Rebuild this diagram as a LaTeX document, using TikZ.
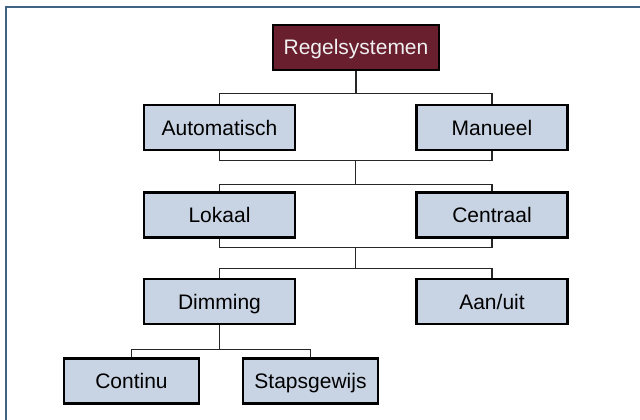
\documentclass[tikz,border=0pt]{standalone}
\usepackage{fontspec}
\setmainfont{Liberation Sans}
\usepackage{xcolor}
\usetikzlibrary{calc}

\definecolor{boxblue}{HTML}{C8D3E3}
\definecolor{topred}{HTML}{6A1F2F}
\definecolor{framebl}{HTML}{3F6383}

\begin{document}
\begin{tikzpicture}[x=1pt, y=-1pt,
  box/.style={draw=black, line width=2.3pt, fill=boxblue, inner sep=0pt,
              minimum width=151pt, minimum height=45pt,
              text height=15pt, text depth=0pt,
              font=\fontsize{21}{25}\selectfont},
  topbox/.style={box, fill=topred, text=white!94!black,
                 minimum width=166pt},
  small/.style={box, minimum width=135pt},
  conn/.style={line width=1.3pt, draw=black!85}]
\useasboundingbox (0,0) rectangle (640,420);
% outer frame
\draw[framebl, line width=2pt] (6,425) -- (6,7) -- (645,7);

\node[topbox] (regel) at (356,47.5) {Regelsystemen};
\node[box] (auto) at (219.5,127.5) {Automatisch};
\node[box] (manu) at (492,127.5) {Manueel};
\node[box] (lok) at (219.5,215) {Lokaal};
\node[box] (cen) at (492,215) {Centraal};
\node[box] (dim) at (219.5,301.5) {Dimming};
\node[box] (aan) at (492,301.5) {Aan/uit};
\node[small] (cont) at (131.5,381) {Continu};
\node[small] (stap) at (310.5,381) {Stapsgewijs};

% level 1
\draw[conn] (regel.south) -- ++(0,22) coordinate (j1);
\draw[conn] (auto.north) |- (j1) -| (manu.north);
% level 2
\draw[conn] (auto.south) -- ++(0,9) -| (manu.south);
\draw[conn] ($(auto.south)!0.5!(manu.south)+(0,9)$) -- ++(0,24) coordinate (j2);
\draw[conn] (lok.north) |- (j2) -| (cen.north);
% level 3
\draw[conn] (lok.south) -- ++(0,9) -| (cen.south);
\draw[conn] ($(lok.south)!0.5!(cen.south)+(0,9)$) -- ++(0,21) coordinate (j3);
\draw[conn] (dim.north) |- (j3) -| (aan.north);
% level 4
\draw[conn] (dim.south) -- ++(0,24) coordinate (j4);
\draw[conn] (cont.north) |- (j4) -| (stap.north);
\end{tikzpicture}
\end{document}
